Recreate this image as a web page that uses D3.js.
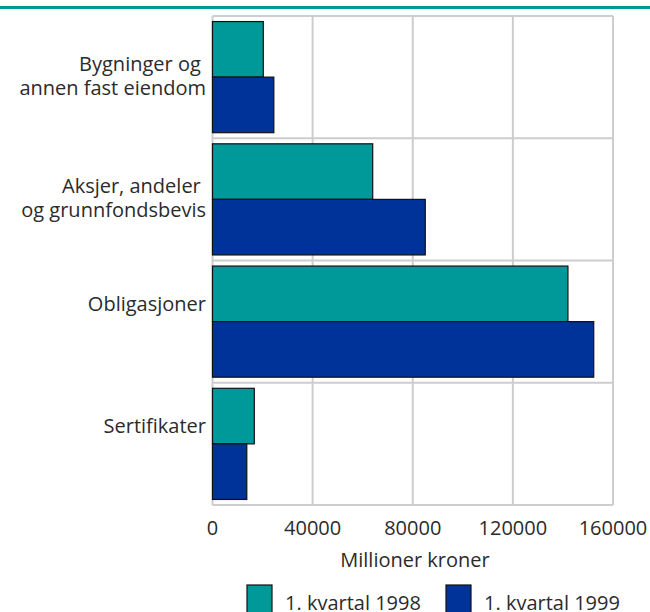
<!DOCTYPE html>
<html>
<head>
<meta charset="utf-8">
<script src="https://cdn.jsdelivr.net/npm/d3@7"></script>
<style>
  body { margin: 0; background: #fff; }
  text { font-family: "Open Sans", sans-serif; fill: #2b2b2b; }
</style>
</head>
<body>
<svg id="chart" width="650" height="612"></svg>
<script>
// data
var categories = ["Bygninger og annen fast eiendom", "Aksjer, andeler og grunnfondsbevis", "Obligasjoner", "Sertifikater"];
var catLabels = [["Bygninger og ", "annen fast eiendom"], ["Aksjer, andeler ", "og grunnfondsbevis"], ["Obligasjoner"], ["Sertifikater"]];
var seriesNames = ["1. kvartal 1998", "1. kvartal 1999"];
var q1998 = [20300, 64000, 142000, 16700];
var q1999 = [24500, 85000, 152300, 13700];
var xTicks = [0, 40000, 80000, 120000, 160000];
var colors = ["#009999", "#003399"];

var svg = d3.select("#chart");

// teal rule on top
svg.append("line")
  .attr("x1", 0).attr("x2", 650)
  .attr("y1", 7.5).attr("y2", 7.5)
  .attr("stroke", "#009999").attr("stroke-width", 3);

var x = d3.scaleLinear().domain([0, 160000]).range([212.5, 613]);
var y = d3.scaleBand().domain(categories).range([16, 505]).padding(0);
var ySub = d3.scaleBand().domain(seriesNames).range([0, y.bandwidth()])
  .paddingInner(0).paddingOuter(0.1);

var grid = svg.append("g").attr("class", "grid")
  .attr("stroke", "#cdcdcd").attr("stroke-width", 2).attr("fill", "none");

grid.selectAll("line.v").data(xTicks).enter().append("line")
  .attr("class", "v")
  .attr("x1", function(d) { return x(d); }).attr("x2", function(d) { return x(d); })
  .attr("y1", 16).attr("y2", 505);

var hLines = categories.map(function(c) { return y(c); }).concat([505]);
grid.selectAll("line.h").data(hLines).enter().append("line")
  .attr("class", "h")
  .attr("x1", x(0)).attr("x2", x(160000))
  .attr("y1", function(d) { return d; }).attr("y2", function(d) { return d; });

// bars
var rows = categories.map(function(c, i) {
  return { cat: c, vals: [q1998[i], q1999[i]] };
});

var groups = svg.selectAll("g.cat").data(rows).enter().append("g")
  .attr("class", "cat")
  .attr("transform", function(d) { return "translate(0," + y(d.cat) + ")"; });

groups.selectAll("rect").data(function(d) {
    return d.vals.map(function(v, j) { return { s: seriesNames[j], v: v, j: j }; });
  }).enter().append("rect")
  .attr("x", x(0))
  .attr("y", function(d) { return ySub(d.s); })
  .attr("width", function(d) { return x(d.v) - x(0); })
  .attr("height", ySub.bandwidth())
  .attr("fill", function(d) { return colors[d.j]; })
  .attr("stroke", "#111").attr("stroke-width", 1.2);

// category labels
var labG = svg.append("g").attr("text-anchor", "end").style("font-size", "20px");
catLabels.forEach(function(lines, i) {
  var c = y(categories[i]) + y.bandwidth() / 2;
  var t = labG.append("text").attr("x", 206).style("white-space", "pre");
  if (lines.length == 2) {
    t.append("tspan").attr("x", 206).attr("y", c - 6).text(lines[0]);
    t.append("tspan").attr("x", 206).attr("y", c + 18).text(lines[1]);
  } else {
    t.attr("y", c - 11).text(lines[0]);
  }
});

// x axis labels
svg.append("g").attr("text-anchor", "middle").style("font-size", "20px")
  .selectAll("text").data(xTicks).enter().append("text")
  .attr("x", function(d) { return x(d); })
  .attr("y", 535)
  .text(function(d) { return d; });

svg.append("text")
  .attr("x", 415).attr("y", 567)
  .attr("text-anchor", "middle").style("font-size", "20px")
  .text("Millioner kroner");

// legend
var legX = [247, 446];
var leg = svg.selectAll("g.leg").data(seriesNames).enter().append("g")
  .attr("class", "leg")
  .attr("transform", function(d, i) { return "translate(" + legX[i] + ",0)"; });
leg.append("rect")
  .attr("x", 0).attr("y", 585).attr("width", 25).attr("height", 30)
  .attr("fill", function(d, i) { return colors[i]; })
  .attr("stroke", "#111").attr("stroke-width", 1.2);
leg.append("text")
  .attr("x", 38).attr("y", 610)
  .style("font-size", "20px")
  .text(function(d) { return d; });
</script>
</body>
</html>
